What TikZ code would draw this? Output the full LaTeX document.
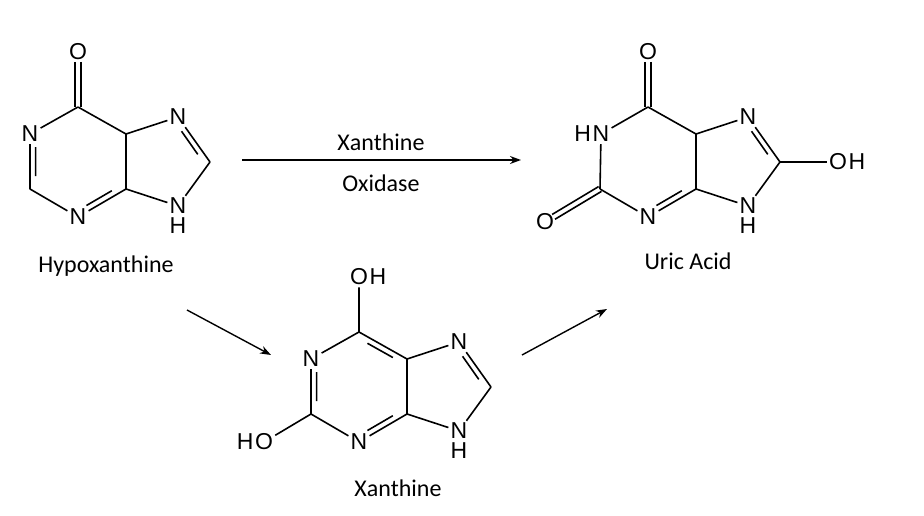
\documentclass[tikz,border=0pt]{standalone}
\usepackage{fontspec}
\setmainfont{Liberation Sans}
\newfontfamily\calfont{Carlito}
\usetikzlibrary{calc,arrows.meta}
\newcommand\dbin[3]{\draw ($(#1)!0.2!(#2)!6pt!(#3)$) -- ($(#2)!0.2!(#1)!6pt!(#3)$);}
\newcommand\dbx[2]{\draw ($(#1)!10pt!(#2)!2.8pt!90:(#2)$) -- ($(#2)!2.8pt!-90:(#1)$); \draw ($(#1)!10pt!(#2)!2.8pt!-90:(#2)$) -- ($(#2)!2.8pt!90:(#1)$);}
\begin{document}
\begin{tikzpicture}[x=1pt,y=-1pt,line width=1.6pt,
  atom/.style={inner sep=1.5pt,font=\fontsize{23}{23}\selectfont},
  hyd/.style={inner sep=0pt,font=\fontsize{23}{23}\selectfont},
  hb/.style={inner sep=0pt,anchor=north,font=\fontsize{23}{23}\selectfont},
  lab/.style={font=\calfont\fontsize{24}{24}\selectfont},
  arr/.style={-{Stealth[length=11pt,width=8pt]},line width=1.4pt}]
\useasboundingbox (0,0) rectangle (924,516);
% Hypoxanthine
\node[atom] (hO6) at (78,52) {O};
\coordinate (hc6) at (78,107);
\node[atom] (hN1) at (30,134) {N};
\coordinate (hc2) at (30,189);
\node[atom] (hN3) at (78,217) {N};
\coordinate (hc4) at (126,189);
\coordinate (hc5) at (126,134);
\node[atom] (hN9) at (178,206) {N};
\node[atom] (hN7) at (178,117) {N};
\coordinate (hc8) at (210,162);
\node[hb] (hH9) at ([yshift=-1pt]hN9.south) {H};
\coordinate (hhc) at (78,162);
\coordinate (hpc) at (165,162);
\draw (hc6)--(hN1) (hN1)--(hc2) (hc2)--(hN3) (hN3)--(hc4) (hc4)--(hc5) (hc5)--(hc6)
 (hc5)--(hN7) (hN7)--(hc8) (hc8)--(hN9) (hN9)--(hc4);
\dbin{hN1}{hc2}{hhc}\dbin{hN3}{hc4}{hhc}\dbin{hN7}{hc8}{hpc}
\dbx{hO6}{hc6}
\node[lab] (hname) at (106,266) {Hypoxanthine};
% Uric acid
\node[atom] (uO6) at (648,52) {O};
\coordinate (uc6) at (648,107);
\node[atom] (uN1) at (601,134) {N};
\node[hyd,anchor=east] (uH1) at ([xshift=1.5pt]uN1.west) {H};
\coordinate (uc2) at (600,189);
\node[atom] (uO2) at (545,222) {O};
\node[atom] (uN3) at (648,217) {N};
\coordinate (uc4) at (696,189);
\coordinate (uc5) at (696,134);
\node[atom] (uN7) at (748,117) {N};
\coordinate (uc8) at (780,162);
\node[atom] (uN9) at (748,206) {N};
\node[hb] (uH9) at ([yshift=-1pt]uN9.south) {H};
\node[atom] (uO8) at (838,162) {O};
\node[hyd,anchor=west] (uH8) at ([xshift=-1.5pt]uO8.east) {H};
\coordinate (uhc) at (648,162);
\coordinate (upc) at (735,162);
\draw (uc6)--(uN1) (uN1)--(uc2) (uc2)--(uN3) (uN3)--(uc4) (uc4)--(uc5) (uc5)--(uc6)
 (uc5)--(uN7) (uN7)--(uc8) (uc8)--(uN9) (uN9)--(uc4) (uc8)--(uO8);
\dbin{uN3}{uc4}{uhc}\dbin{uN7}{uc8}{upc}
\dbx{uO6}{uc6}\dbx{uO2}{uc2}
\node[lab] (uname) at (688,261) {Uric Acid};
% Xanthine
\node[atom] (xO6) at (359,277) {O};
\node[hyd,anchor=west] (xH6) at ([xshift=-1.5pt]xO6.east) {H};
\coordinate (xc6) at (359,332);
\node[atom] (xN1) at (311,359) {N};
\coordinate (xc2) at (311,414);
\node[atom] (xO2) at (264,442) {O};
\node[hyd,anchor=east] (xH2) at ([xshift=1.5pt]xO2.west) {H};
\node[atom] (xN3) at (359,442) {N};
\coordinate (xc4) at (407,414);
\coordinate (xc5) at (407,359);
\node[atom] (xN7) at (459,342) {N};
\coordinate (xc8) at (491,387);
\node[atom] (xN9) at (459,431) {N};
\node[hb] (xH9) at ([yshift=-1pt]xN9.south) {H};
\coordinate (xhc) at (359,387);
\coordinate (xpc) at (446,387);
\draw (xc6)--(xN1) (xN1)--(xc2) (xc2)--(xN3) (xN3)--(xc4) (xc4)--(xc5) (xc5)--(xc6)
 (xc5)--(xN7) (xN7)--(xc8) (xc8)--(xN9) (xN9)--(xc4) (xO6)--(xc6) (xO2)--(xc2);
\dbin{xN1}{xc2}{xhc}\dbin{xN3}{xc4}{xhc}\dbin{xc5}{xc6}{xhc}\dbin{xN7}{xc8}{xpc}
\node[lab] (xname) at (398,488) {Xanthine};
% Arrows
\coordinate (a1s) at (242,160); \coordinate (a1e) at (521,160);
\draw[arr] (a1s) -- (a1e);
\node[lab] (t1) at (381,142) {Xanthine};
\node[lab] (t2) at (381,183) {Oxidase};
\coordinate (a2s) at (187,310); \coordinate (a2e) at (271,355);
\draw[arr] (a2s) -- (a2e);
\coordinate (a3s) at (522,355); \coordinate (a3e) at (607,309);
\draw[arr] (a3s) -- (a3e);
\end{tikzpicture}
\end{document}
